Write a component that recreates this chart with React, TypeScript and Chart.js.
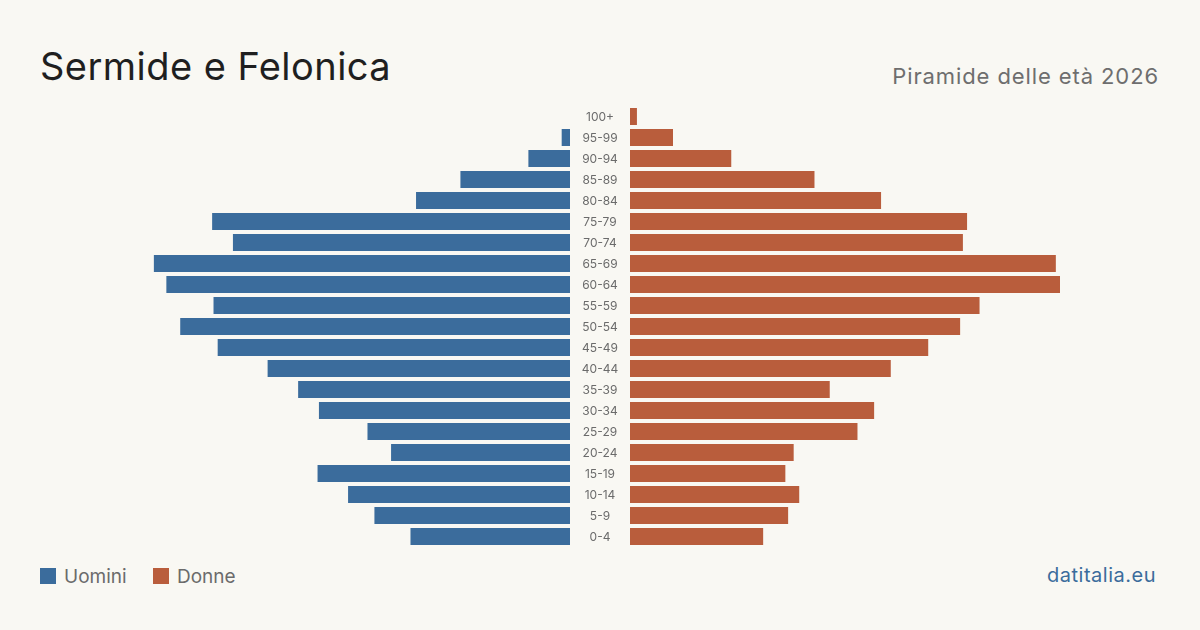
import React, { useEffect, useRef } from "react";
import { Chart, registerables } from "chart.js";

Chart.register(...registerables);

// Age bands, from oldest (top) to youngest (bottom)
const AGE_GROUPS = [
  "100+", "95-99", "90-94", "85-89", "80-84", "75-79", "70-74",
  "65-69", "60-64", "55-59", "50-54", "45-49", "40-44", "35-39",
  "30-34", "25-29", "20-24", "15-19", "10-14", "5-9", "0-4",
];

// Residents per age band
const MEN = [
  0, 6, 30, 79, 111, 258, 243, 300, 291, 257, 281, 254, 218, 196,
  181, 146, 129, 182, 160, 141, 115,
];
const WOMEN = [
  5, 31, 73, 133, 181, 243, 240, 307, 310, 252, 238, 215, 188, 144,
  176, 164, 118, 112, 122, 114, 96,
];

const SCALE_MAX = Math.max(...MEN, ...WOMEN);

const BLUE = "#3b6c9c";
const ORANGE = "#b95d3c";
const BG = "#f9f8f3";
const FONT = "Inter, 'Noto Sans', sans-serif";

// Row height 21px, bar 17px
const BAR_FRACTION = 17 / 21;

const ageLabels = {
  id: "ageLabels",
  afterDatasetsDraw(chart: any) {
    const { ctx, chartArea, scales } = chart;
    ctx.save();
    ctx.font = `12px ${FONT}`;
    ctx.fillStyle = "#6b6b6b";
    ctx.textAlign = "center";
    ctx.textBaseline = "middle";
    AGE_GROUPS.forEach((g, i) => {
      ctx.fillText(g, chartArea.left - 30, scales.y.getPixelForValue(i) + 0.5);
    });
    ctx.restore();
  },
};

function baseOptions(reverse: boolean, padLeft: number): any {
  return {
    indexAxis: "y",
    animation: false,
    responsive: false,
    maintainAspectRatio: false,
    events: [],
    layout: { padding: { left: padLeft, right: 0, top: 0, bottom: 0 } },
    plugins: { legend: { display: false }, tooltip: { enabled: false } },
    scales: {
      x: { type: "linear", min: 0, max: SCALE_MAX, reverse, display: false },
      y: { type: "category", display: false },
    },
  };
}

function PyramidSide({
  values,
  color,
  reverse,
  padLeft,
  width,
  withLabels,
}: {
  values: number[];
  color: string;
  reverse: boolean;
  padLeft: number;
  width: number;
  withLabels: boolean;
}) {
  const ref = useRef<HTMLCanvasElement | null>(null);
  useEffect(() => {
    if (!ref.current) return;
    const chart = new Chart(ref.current, {
      type: "bar",
      data: {
        labels: AGE_GROUPS,
        datasets: [
          {
            data: values,
            backgroundColor: color,
            borderWidth: 0,
            barPercentage: BAR_FRACTION,
            categoryPercentage: 1,
          },
        ],
      },
      options: baseOptions(reverse, padLeft),
      plugins: withLabels ? [ageLabels] : [],
    } as any);
    return () => chart.destroy();
  }, [values, color, reverse, padLeft, withLabels]);
  return <canvas ref={ref} width={width} height={441} style={{ display: "block", width, height: 441 }} />;
}

export default function App() {
  return (
    <div
      style={{
        position: "fixed",
        left: 0,
        top: 0,
        width: 1200,
        height: 630,
        background: BG,
        fontFamily: FONT,
        overflow: "hidden",
      }}
    >
      <div
        style={{
          position: "absolute",
          left: 40,
          top: 47,
          fontSize: 38,
          lineHeight: "38px",
          letterSpacing: 0.45,
          color: "#1f1f1f",
          whiteSpace: "nowrap",
        }}
      >
        Sermide e Felonica
      </div>
      <div
        style={{
          position: "absolute",
          right: 41,
          top: 65,
          fontSize: 22,
          lineHeight: "22px",
          letterSpacing: 0.9,
          color: "#6e6e6e",
          whiteSpace: "nowrap",
        }}
      >
        Piramide delle età 2026
      </div>

      <div style={{ position: "absolute", left: 140, top: 106 }}>
        <PyramidSide values={MEN} color={BLUE} reverse={true} padLeft={0} width={430} withLabels={false} />
      </div>
      <div style={{ position: "absolute", left: 570, top: 106 }}>
        <PyramidSide values={WOMEN} color={ORANGE} reverse={false} padLeft={60} width={490} withLabels={true} />
      </div>

      {/* legend */}
      <div style={{ position: "absolute", left: 40, top: 568, width: 16, height: 16, background: BLUE }} />
      <div
        style={{
          position: "absolute",
          left: 64,
          top: 567,
          fontSize: 19,
          lineHeight: "19px",
          color: "#6b6b6b",
          whiteSpace: "nowrap",
        }}
      >
        Uomini
      </div>
      <div style={{ position: "absolute", left: 153, top: 568, width: 16, height: 16, background: ORANGE }} />
      <div
        style={{
          position: "absolute",
          left: 177,
          top: 567,
          fontSize: 19,
          lineHeight: "19px",
          color: "#6b6b6b",
          whiteSpace: "nowrap",
        }}
      >
        Donne
      </div>

      <div
        style={{
          position: "absolute",
          right: 44,
          top: 565,
          fontSize: 20,
          lineHeight: "20px",
          letterSpacing: 0.5,
          color: BLUE,
          whiteSpace: "nowrap",
        }}
      >
        datitalia.eu
      </div>
    </div>
  );
}
